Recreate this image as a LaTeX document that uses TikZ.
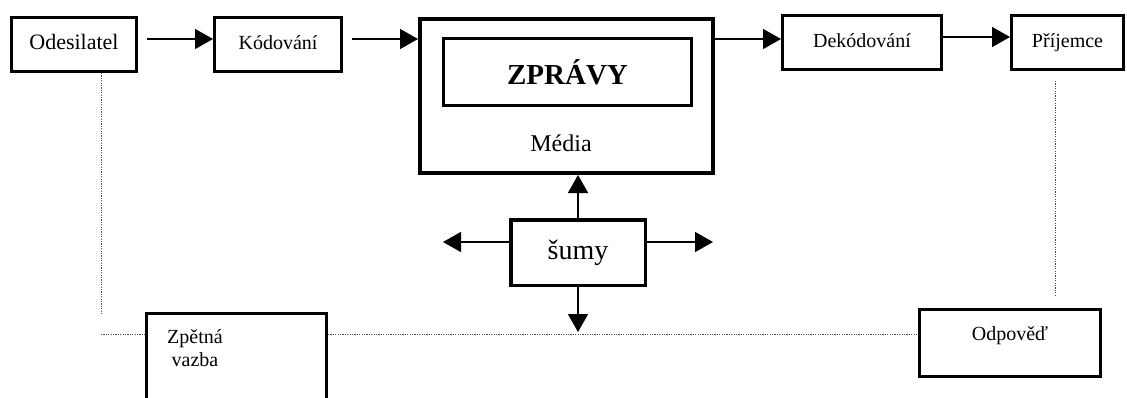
\documentclass[tikz,border=0pt]{standalone}
\usepackage{fontspec}
\setmainfont{Liberation Serif}
\usetikzlibrary{arrows.meta}

\tikzset{
  box/.style={draw, line width=3pt, inner sep=0pt, font=\fontsize{20}{23}\selectfont,
              text height=14pt, text depth=4pt},
  arr/.style={line width=1.5pt, -{Triangle[length=18pt,width=20pt]}},
  dots/.style={black!70, line width=1pt, dash pattern=on 1.2pt off 1.2pt},
  lbl/.style={inner sep=0pt, font=\fontsize{20}{23}\selectfont, align=center}
}

\begin{document}
\begin{tikzpicture}[x=1pt, y=-1pt]
\clip (0,0) rectangle (1127,397);
\fill[white] (0,0) rectangle (1127,397);

% top row
\node[box, minimum width=125pt, minimum height=54pt, font=\fontsize{22}{25}\selectfont] (odes) at (74,44.5) {Odesilatel};
\node[box, minimum width=127pt, minimum height=54pt] (kod) at (278,44.5) {Kódování};
\node[draw, line width=4pt, minimum width=293pt, minimum height=154pt, inner sep=0pt] (media) at (566.5,96) {};
\node[draw, line width=3pt, minimum width=248pt, minimum height=67pt, inner sep=0pt,
      font=\bfseries\fontsize{29}{32}\selectfont] (zpr) at (567.5,72) {ZPRÁVY};
\node[lbl, font=\fontsize{24}{27}\selectfont] (medlbl) at (561,143) {Média};
\node[box, minimum width=159pt, minimum height=54pt] (dek) at (862,42.5) {Dekódování};
\node[box, minimum width=112pt, minimum height=54pt] (prij) at (1067.5,42.5) {Příjemce};

% noise source
\node[draw, line width=3.5pt, minimum width=134.5pt, minimum height=65.5pt, inner sep=0pt,
      font=\fontsize{28}{31}\selectfont] (sumy) at (578,252.5) {šumy};

% feedback boxes
\node[draw, line width=3pt, minimum width=180pt, minimum height=105pt, inner sep=0pt] (zpet) at (236.5,366) {};
\node[lbl] (zpetlbl) at (195,348) {Zpětná\\vazba};
\node[draw, line width=3pt, minimum width=181pt, minimum height=67pt, inner sep=0pt] (odp) at (1010,343) {};
\node[lbl] (odplbl) at (1010,336) {Odpověď};

% main flow
\coordinate (a1) at ([yshift=5.5pt]odes.east);
\coordinate (a2) at ([yshift=5.5pt]kod.east);
\coordinate (a3) at ([yshift=3.5pt]dek.west);
\coordinate (a4) at ([yshift=5.5pt]dek.east);
\draw[arr, shorten <=9pt] (a1) -- (a1 -| kod.west);
\draw[arr, shorten <=9pt] (a2) -- (a2 -| media.west);
\draw[arr] (a3 -| media.east) -- (a3);
\draw[arr] (a4) -- (a4 -| prij.west);

% noise arrows
\coordinate (sl) at (443,242);
\coordinate (sr) at (713,242);
\coordinate (sd) at (578,332);
\draw[arr] (sumy.north) -- (sumy.north |- media.south);
\draw[arr] (sl -| sumy.west) -- (sl);
\draw[arr] (sr -| sumy.east) -- (sr);
\draw[arr] (sumy.south) -- (sd);

% feedback lines
\coordinate (lv) at (101,315);
\coordinate (lh) at (101,334);
\coordinate (rv) at (1055,295);
\draw[dots] (odes.south -| lv) -- (lv);
\draw[dots] (lh) -- (lh -| zpet.west);
\draw[dots] (lh -| zpet.east) -- (lh -| odp.west);
\draw[dots] ([yshift=-10pt]prij.south -| rv) -- (rv);
\end{tikzpicture}
\end{document}
